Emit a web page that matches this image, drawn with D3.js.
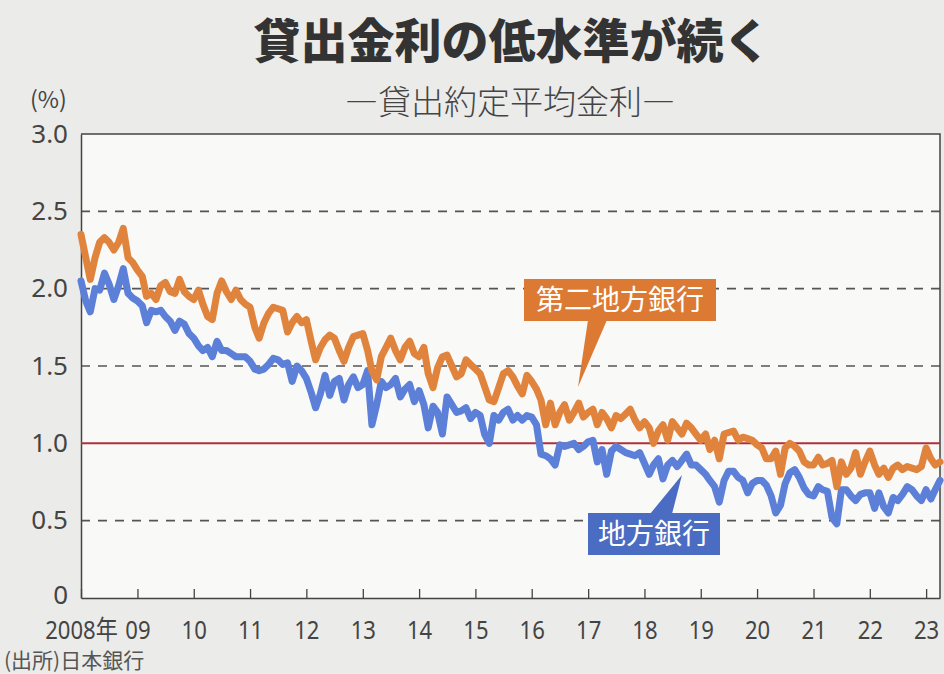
<!DOCTYPE html>
<html>
<head>
<meta charset="utf-8">
<script src="https://cdn.jsdelivr.net/npm/d3@7"></script>
<style>
  html, body { margin: 0; padding: 0; background: #ebebe9; }
  svg { display: block; }
  text { font-family: "Noto Sans CJK JP", "Noto Sans", sans-serif; }
</style>
</head>
<body>
<div id="chart"></div>
<script>
// 貸出約定平均金利 (%), monthly 2008-01 .. 2023-04
var startMonth = new Date(2008, 0, 1);

var secondRegional = [
  2.35, 2.20, 2.06, 2.20, 2.30, 2.33, 2.30, 2.25, 2.30, 2.39, 2.20, 2.17,
  2.12, 2.08, 1.95, 1.97, 1.93, 2.02, 2.04, 1.98, 1.97, 2.06, 1.98, 1.95,
  1.93, 1.99, 1.90, 1.82, 1.80, 1.97, 2.05, 1.98, 1.93, 1.99, 1.93, 1.90,
  1.88, 1.75, 1.68, 1.78, 1.84, 1.88, 1.87, 1.86, 1.72, 1.78, 1.82, 1.78,
  1.80, 1.66, 1.54, 1.62, 1.67, 1.70, 1.68, 1.60, 1.53, 1.62, 1.69, 1.70,
  1.71, 1.60, 1.47, 1.41, 1.56, 1.62, 1.68, 1.60, 1.54, 1.62, 1.66, 1.58,
  1.56, 1.62, 1.45, 1.36, 1.49, 1.56, 1.57, 1.50, 1.43, 1.45, 1.54, 1.51,
  1.48, 1.45, 1.37, 1.28, 1.27, 1.36, 1.45, 1.47, 1.43, 1.37, 1.32, 1.44,
  1.40, 1.35, 1.28, 1.12, 1.26, 1.12, 1.20, 1.25, 1.15, 1.20, 1.26, 1.17,
  1.20, 1.22, 1.12, 1.20, 1.16, 1.10, 1.18, 1.16, 1.19, 1.22, 1.15, 1.10,
  1.14, 1.10, 1.00, 1.08, 1.12, 1.02, 1.14, 1.10, 1.06, 1.13, 1.10, 1.06,
  1.02, 1.06, 0.96, 1.02, 0.90, 1.06, 1.07, 1.08, 1.02, 1.04, 1.03, 1.02,
  0.99, 0.97, 0.90, 0.90, 0.95, 0.80, 0.97, 1.00, 0.98, 0.95, 0.88, 0.86,
  0.86, 0.91, 0.86, 0.87, 0.89, 0.72, 0.88, 0.80, 0.84, 0.94, 0.80, 0.88,
  0.95, 0.86, 0.80, 0.84, 0.78, 0.84, 0.86, 0.83, 0.85, 0.84, 0.83, 0.85,
  0.97, 0.90, 0.86, 0.88
];

var regional = [
  2.05, 1.92, 1.85, 2.00, 1.99, 2.10, 2.03, 1.93, 2.02, 2.13, 1.97, 1.94,
  1.92, 1.89, 1.78, 1.86, 1.85, 1.86, 1.82, 1.79, 1.73, 1.79, 1.77, 1.71,
  1.68, 1.63, 1.60, 1.62, 1.56, 1.66, 1.60, 1.60, 1.58, 1.56, 1.56, 1.56,
  1.53, 1.48, 1.47, 1.48, 1.51, 1.55, 1.54, 1.51, 1.52, 1.40, 1.50, 1.47,
  1.42, 1.33, 1.23, 1.32, 1.44, 1.31, 1.40, 1.42, 1.28, 1.38, 1.43, 1.36,
  1.38, 1.47, 1.12, 1.25, 1.40, 1.36, 1.38, 1.42, 1.30, 1.35, 1.38, 1.27,
  1.34, 1.25, 1.10, 1.24, 1.20, 1.06, 1.30, 1.25, 1.20, 1.21, 1.23, 1.16,
  1.20, 1.18, 1.06, 1.00, 1.18, 1.15, 1.20, 1.22, 1.15, 1.18, 1.15, 1.18,
  1.17, 1.12, 0.93, 0.92, 0.90, 0.86, 0.99, 0.98, 0.99, 1.00, 0.96, 0.98,
  1.01, 1.02, 0.88, 0.96, 0.80, 0.95, 0.98, 0.96, 0.94, 0.93, 0.92, 0.94,
  0.87, 0.80, 0.86, 0.90, 0.77, 0.86, 0.89, 0.85, 0.89, 0.93, 0.86, 0.86,
  0.83, 0.80, 0.76, 0.72, 0.62, 0.76, 0.82, 0.82, 0.78, 0.76, 0.68, 0.74,
  0.76, 0.76, 0.73, 0.66, 0.55, 0.60, 0.74, 0.81, 0.83, 0.78, 0.71, 0.67,
  0.66, 0.72, 0.70, 0.69, 0.52, 0.48, 0.70, 0.70, 0.66, 0.63, 0.67, 0.68,
  0.68, 0.58, 0.68, 0.59, 0.55, 0.65, 0.63, 0.67, 0.72, 0.70, 0.66, 0.63,
  0.70, 0.64, 0.70, 0.76
];

var yTicks = [0, 0.5, 1.0, 1.5, 2.0, 2.5, 3.0];
var xTickYears = [2008, 2009, 2010, 2011, 2012, 2013, 2014, 2015, 2016, 2017, 2018, 2019, 2020, 2021, 2022, 2023];
var xTickLabels = ["2008年", "09", "10", "11", "12", "13", "14", "15", "16", "17", "18", "19", "20", "21", "22", "23"];

var width = 944, height = 674;
var margin = {top: 134, right: 4, bottom: 76, left: 81};

var svg = d3.select("#chart").append("svg")
    .attr("width", width)
    .attr("height", height);

function monthDate(i) { return new Date(2008, i, 1); }

var x = d3.scaleTime()
    .domain([startMonth, monthDate(secondRegional.length - 1)])
    .range([margin.left, width - margin.right]);

var y = d3.scaleLinear()
    .domain([0, 3.0])
    .range([height - margin.bottom, margin.top]);

// plot background
svg.append("rect")
    .attr("x", margin.left).attr("y", margin.top)
    .attr("width", width - margin.left - margin.right)
    .attr("height", height - margin.top - margin.bottom)
    .attr("fill", "#f9f9f7");

// title
svg.append("text")
    .attr("x", 512).attr("y", 58)
    .attr("text-anchor", "middle")
    .attr("font-size", 47).attr("font-weight", 900)
    .attr("fill", "#333")
    .text("貸出金利の低水準が続く");

svg.append("text")
    .attr("x", 510).attr("y", 114)
    .attr("text-anchor", "middle")
    .attr("font-size", 33).attr("font-weight", 300)
    .attr("fill", "#444")
    .text("―貸出約定平均金利―");

svg.append("text")
    .attr("x", 30).attr("y", 108)
    .attr("font-size", 23).attr("fill", "#444")
    .text("(%)");

// gridlines
svg.append("g")
    .selectAll("line")
    .data(yTicks.filter(function (d) { return d > 0 && d < 3 && d !== 1.0; }))
    .enter().append("line")
    .attr("x1", margin.left).attr("x2", width - margin.right)
    .attr("y1", function (d) { return y(d); })
    .attr("y2", function (d) { return y(d); })
    .attr("stroke", "#555")
    .attr("stroke-width", 1.6)
    .attr("stroke-dasharray", "9,8");

// y axis
var yAxis = svg.append("g")
    .attr("transform", "translate(" + margin.left + ",0)")
    .call(d3.axisLeft(y).tickValues(yTicks)
        .tickFormat(function (d) { return d === 0 ? "0" : d.toFixed(1); })
        .tickSize(0).tickPadding(13));
yAxis.select(".domain").attr("stroke", "#444").attr("stroke-width", 1.5);
yAxis.selectAll("text")
    .attr("font-size", 26).attr("fill", "#444")
    .style("font-family", "'Noto Sans', sans-serif");
yAxis.selectAll(".tick text").filter(function (d) { return d === 0; })
    .attr("dy", "0.2em");

// x axis
var xAxis = svg.append("g")
    .attr("transform", "translate(0," + (height - margin.bottom) + ")")
    .call(d3.axisBottom(x)
        .tickValues(xTickYears.map(function (yr) { return new Date(yr, 0, 1); }))
        .tickFormat(function (d, i) { return xTickLabels[i]; })
        .tickSizeInner(-9).tickSizeOuter(0).tickPadding(23));
xAxis.select(".domain").attr("stroke", "#444").attr("stroke-width", 1.5);
xAxis.selectAll(".tick line").attr("stroke", "#444").attr("stroke-width", 1.3);
xAxis.selectAll("text")
    .attr("font-size", 26).attr("fill", "#444")
    .attr("transform", "scale(0.85,1)")
    .style("font-family", "'Noto Sans', 'Noto Sans CJK JP', sans-serif");

// top and right frame
svg.append("path")
    .attr("d", "M" + margin.left + "," + margin.top + "H" + (width - margin.right) + "V" + (height - margin.bottom))
    .attr("fill", "none").attr("stroke", "#444").attr("stroke-width", 1.5);

// 1% reference line
svg.append("line")
    .attr("x1", margin.left).attr("x2", width - margin.right)
    .attr("y1", y(1.0)).attr("y2", y(1.0))
    .attr("stroke", "#b0303a").attr("stroke-width", 2);

var line = d3.line()
    .x(function (d, i) { return x(monthDate(i)); })
    .y(function (d) { return y(d); });

svg.append("path")
    .datum(regional)
    .attr("d", line)
    .attr("fill", "none")
    .attr("stroke", "#5c7fd8")
    .attr("stroke-width", 7)
    .attr("stroke-linejoin", "round")
    .attr("stroke-linecap", "round");

svg.append("path")
    .datum(secondRegional)
    .attr("d", line)
    .attr("fill", "none")
    .attr("stroke", "#e0833d")
    .attr("stroke-width", 7)
    .attr("stroke-linejoin", "round")
    .attr("stroke-linecap", "round");

// callout labels
function callout(boxX, boxY, boxW, boxH, tri, color, label) {
    var g = svg.append("g");
    g.append("path")
        .attr("d", "M" + tri[0][0] + "," + tri[0][1] + "L" + tri[1][0] + "," + tri[1][1] + "L" + tri[2][0] + "," + tri[2][1] + "Z")
        .attr("fill", color);
    g.append("rect")
        .attr("x", boxX).attr("y", boxY)
        .attr("width", boxW).attr("height", boxH)
        .attr("fill", color);
    g.append("text")
        .attr("x", boxX + boxW / 2).attr("y", boxY + boxH / 2 + 10)
        .attr("text-anchor", "middle")
        .attr("font-size", 28)
        .attr("fill", "#fff")
        .text(label);
}

callout(524, 279, 192, 42, [[588, 320], [607, 320], [578, 387]], "#dc7a33", "第二地方銀行");
callout(588, 513, 132, 42, [[650, 514], [672, 514], [682, 475]], "#4a6cc2", "地方銀行");

// source
svg.append("text")
    .attr("x", 4).attr("y", 668)
    .attr("font-size", 21).attr("fill", "#555")
    .text("(出所)日本銀行");
</script>
</body>
</html>
